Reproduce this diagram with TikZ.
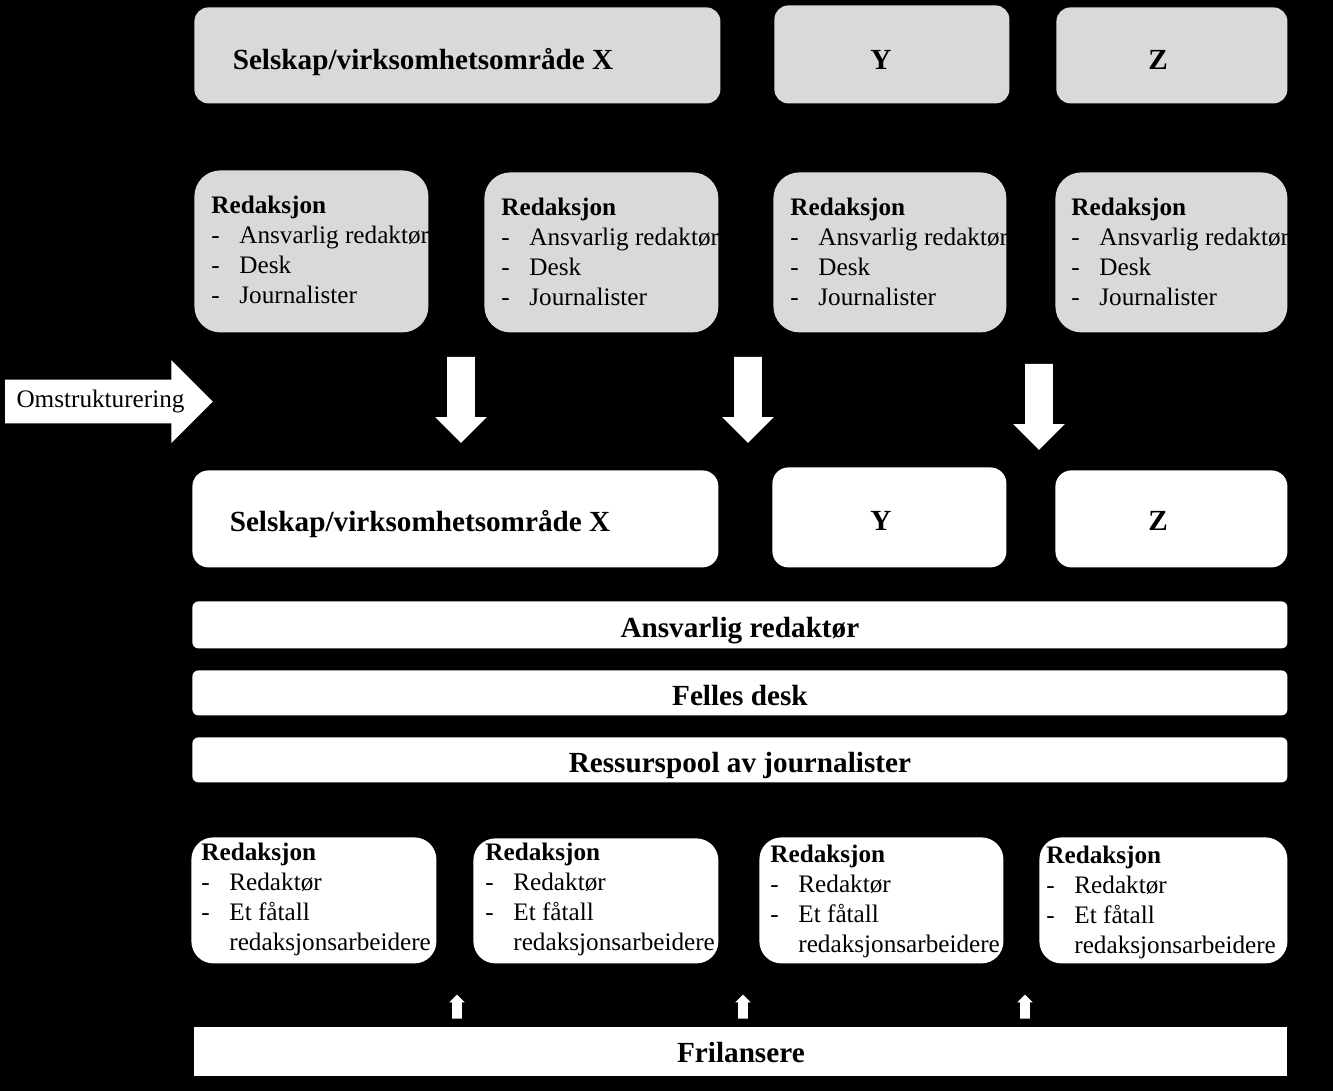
\documentclass[tikz,border=0pt]{standalone}
\usepackage{fontspec}
\setmainfont{Liberation Serif}
\usetikzlibrary{shapes.arrows,positioning}
\definecolor{boxgray}{RGB}{217,217,217}
\newcommand{\dashitem}[1]{\makebox[14pt][l]{-}#1}

\tikzset{
	wh/.style 2 args={minimum width=#1*0.5pt, minimum height=#2*0.5pt},
	every node/.style={font=\fontsize{12.6}{15}\selectfont},
	panel/.style={anchor=north west, inner sep=0pt},
	graypanel/.style={panel, fill=boxgray},
	whitepanel/.style={panel, fill=white},
	headline/.style={font=\fontsize{14.6}{17}\selectfont\bfseries},
	listtext/.style={anchor=north west, align=left, inner sep=0pt},
	bar/.style={whitepanel, rounded corners=3pt, headline, text height=1.25em, text depth=0pt},
	downarrow/.style={single arrow, fill=white, rotate=-90, inner xsep=0pt, inner ysep=6.75pt,
		single arrow head extend=6pt, minimum height=43pt, minimum width=0pt},
	uparrow/.style={single arrow, fill=white, rotate=90, inner xsep=0pt, inner ysep=2.2pt,
		single arrow head extend=1.5pt, minimum height=12pt, minimum width=0pt},
	bigarrow/.style={single arrow, fill=white, inner xsep=3pt, inner ysep=5pt,
		single arrow head extend=9.75pt, minimum height=102.5pt, minimum width=0pt}
}

\begin{document}
\begin{tikzpicture}[x=0.5pt,y=-0.5pt]
	\fill[black] (0,0) rectangle (1333,1091);

	\node[graypanel, rounded corners=7pt, wh={526}{96}] (sx) at (194,7) {};
	\node[graypanel, rounded corners=7pt, wh={235}{98}] (sy) at (774,5) {};
	\node[graypanel, rounded corners=7pt, wh={231}{96}] (sz) at (1056,7) {};
	\node[headline] (sxt) at (423,62) {Selskap/virksomhetsområde X};
	\node[headline] (syt) at (881,60) {Y};
	\node[headline] (szt) at (1158,60) {Z};

	\node[graypanel, rounded corners=13pt, wh={234}{162}] (ra) at (194,170) {};
	\node[graypanel, rounded corners=13pt, wh={234}{160}] (rb) at (484,172) {};
	\node[graypanel, rounded corners=13pt, wh={233}{160}] (rc) at (773,172) {};
	\node[graypanel, rounded corners=13pt, wh={232}{160}] (rd) at (1055,172) {};
	\node[listtext] (rat) at (211,196) {\textbf{Redaksjon}\\\dashitem{Ansvarlig redaktør}\\\dashitem{Desk}\\\dashitem{Journalister}};
	\node[listtext] (rbt) at (501,198) {\textbf{Redaksjon}\\\dashitem{Ansvarlig redaktør}\\\dashitem{Desk}\\\dashitem{Journalister}};
	\node[listtext] (rct) at (790,198) {\textbf{Redaksjon}\\\dashitem{Ansvarlig redaktør}\\\dashitem{Desk}\\\dashitem{Journalister}};
	\node[listtext] (rdt) at (1071,198) {\textbf{Redaksjon}\\\dashitem{Ansvarlig redaktør}\\\dashitem{Desk}\\\dashitem{Journalister}};

	\node[bigarrow] (om) at (98,401.5) {\hspace*{2.5pt}Omstrukturering};
	\node[downarrow] (da) at (461,393) {};
	\node[downarrow] (db) at (748,393) {};
	\node[downarrow] (dc) at (1039,400) {};

	\node[whitepanel, rounded corners=8pt, wh={526}{97}] (wx) at (192,470) {};
	\node[whitepanel, rounded corners=8pt, wh={234}{100}] (wy) at (772,467) {};
	\node[whitepanel, rounded corners=8pt, wh={232}{97}] (wz) at (1055,470) {};
	\node[headline] (wxt) at (420,524) {Selskap/virksomhetsområde X};
	\node[headline] (wyt) at (881,521) {Y};
	\node[headline] (wzt) at (1158,521) {Z};

	\node[bar, wh={1095}{47}] (ar) at (192,601) {Ansvarlig redaktør};
	\node[bar, wh={1095}{45}] (fd) at (192,670) {Felles desk};
	\node[bar, wh={1095}{45}] (rp) at (192,737) {Ressurspool av journalister};

	\node[whitepanel, rounded corners=11pt, wh={245}{126}] (ba) at (191,837) {};
	\node[whitepanel, rounded corners=11pt, wh={245}{125}] (bb) at (473,838) {};
	\node[whitepanel, rounded corners=11pt, wh={244}{126}] (bc) at (759,837) {};
	\node[whitepanel, rounded corners=11pt, wh={248}{126}] (bd) at (1039,837) {};
	\node[listtext] (bat) at (201,843) {\textbf{Redaksjon}\\\dashitem{Redaktør}\\\dashitem{Et fåtall}\\\hspace*{14pt}redaksjonsarbeidere};
	\node[listtext] (bbt) at (485,843) {\textbf{Redaksjon}\\\dashitem{Redaktør}\\\dashitem{Et fåtall}\\\hspace*{14pt}redaksjonsarbeidere};
	\node[listtext] (bct) at (770,845) {\textbf{Redaksjon}\\\dashitem{Redaktør}\\\dashitem{Et fåtall}\\\hspace*{14pt}redaksjonsarbeidere};
	\node[listtext] (bdt) at (1046,846) {\textbf{Redaksjon}\\\dashitem{Redaktør}\\\dashitem{Et fåtall}\\\hspace*{14pt}redaksjonsarbeidere};

	\node[uparrow] (ua) at (457,1009) {};
	\node[uparrow] (ub) at (743,1009) {};
	\node[uparrow] (uc) at (1025,1009) {};
	\node[bar, rounded corners=0pt, text height=1.05em, wh={1093}{49}] (fr) at (194,1027) {Frilansere};
\end{tikzpicture}
\end{document}
